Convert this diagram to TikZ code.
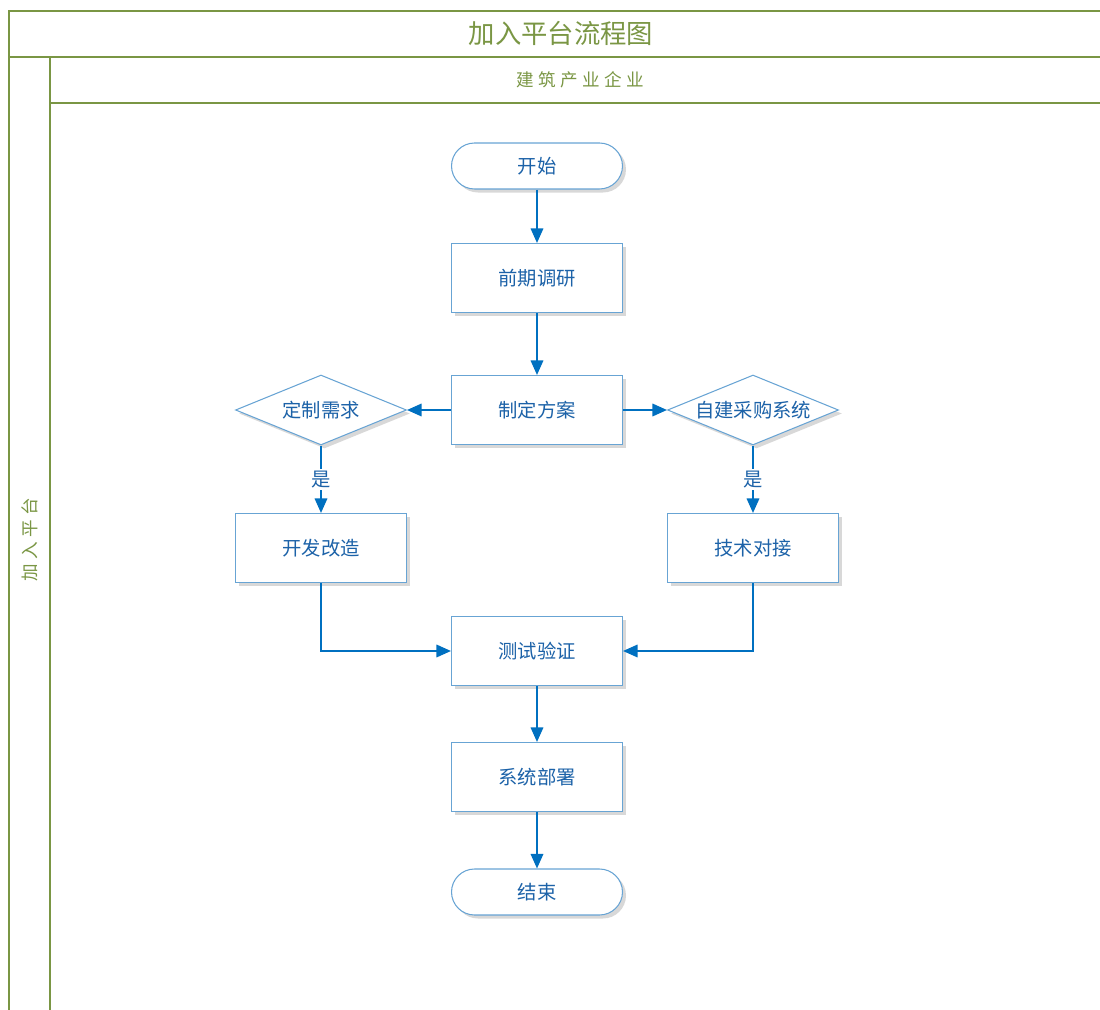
\documentclass[tikz,border=0pt]{standalone}
\usepackage{fontspec}
\usepackage{xcolor}
\usepackage{tikz}
\usetikzlibrary{arrows.meta,shapes.geometric,shadows}
\newfontfamily\cjk{Noto Sans CJK SC}
\newfontfamily\cjkwide[LetterSpace=25]{Noto Sans CJK SC}
\definecolor{lane}{RGB}{122,150,68}
\definecolor{edge}{RGB}{104,164,212}
\definecolor{ink}{RGB}{28,98,168}
\definecolor{flowc}{RGB}{0,112,192}
\tikzset{
  base/.style={draw=edge, line width=0.6pt, fill=white, text=ink, align=center,
    font=\cjk\fontsize{11}{13}\selectfont,
    drop shadow={shadow xshift=2pt, shadow yshift=-2pt, fill=black!30}},
  proc/.style={base, rectangle, minimum width=3.42cm, minimum height=1.38cm},
  term/.style={base, rectangle, rounded corners=0.46cm, minimum width=3.42cm, minimum height=0.92cm},
  cond/.style={base, diamond, aspect=2.44, inner sep=0pt,
    minimum width=3.42cm, minimum height=1.4cm},
  flow/.style={draw=flowc, line width=1pt, -{Triangle[length=2.9mm, width=2.5mm]}},
  yes/.style={fill=white, text=ink, font=\cjk\fontsize{11}{13}\selectfont, inner sep=1pt},
  frame/.style={draw=lane, line width=1.3pt},
  hdr/.style={text=lane}
}
\begin{document}
\begin{tikzpicture}[x=0.02cm, y=-0.02cm]
    \useasboundingbox (0,0) rectangle (1100,1010);
    % 泳道框架
    \draw[frame] (1100,11) -- (9,11) -- (9,1010);
    \draw[frame] (9,57) -- (1100,57);
    \draw[frame] (50,57) -- (50,1010);
    \draw[frame] (50,103) -- (1100,103);
    \node[hdr, font=\cjk\fontsize{15}{17}\selectfont] (title) at (561,33) {加入平台流程图};
    \node[hdr, font=\cjkwide\fontsize{10}{12}\selectfont] (org) at (580,80) {建筑产业企业};
    \node[hdr, font=\cjkwide\fontsize{10}{12}\selectfont, rotate=90] (lanename) at (30,540) {加入平台};

    % 流程节点
    \node[term] (start)  at (537,166) {开始};
    \node[proc] (survey) at (537,278) {前期调研};
    \node[proc] (plan)   at (537,410) {制定方案};
    \node[cond] (custom) at (321,410) {定制需求};
    \node[cond] (own)    at (753,410) {自建采购系统};
    \node[proc] (dev)    at (321,548) {开发改造};
    \node[proc] (link)   at (753,548) {技术对接};
    \node[proc] (test)   at (537,651) {测试验证};
    \node[proc] (deploy) at (537,777) {系统部署};
    \node[term] (stop)   at (537,892) {结束};

    % 连线
    \draw[flow] (start) -- (survey);
    \draw[flow] (survey) -- (plan);
    \draw[flow] (plan) -- (custom);
    \draw[flow] (plan) -- (own);
    \draw[flow] (custom) -- node[yes]{是} (dev);
    \draw[flow] (own) -- node[yes]{是} (link);
    \draw[flow] (dev.south) |- (test.west);
    \draw[flow] (link.south) |- (test.east);
    \draw[flow] (test) -- (deploy);
    \draw[flow] (deploy) -- (stop);
\end{tikzpicture}
\end{document}
